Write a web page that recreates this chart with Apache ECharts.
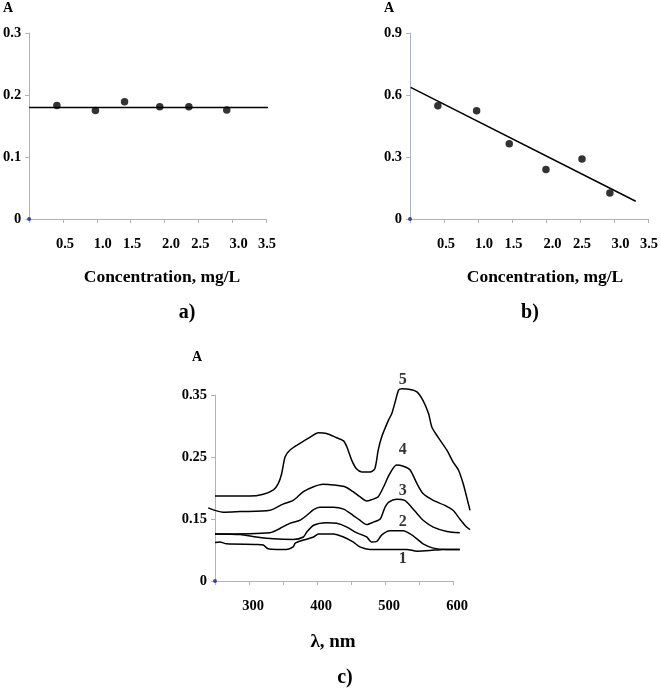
<!DOCTYPE html>
<html><head><meta charset="utf-8">
<script src="https://cdn.jsdelivr.net/npm/echarts@6/dist/echarts.min.js"></script>
<style>html,body{margin:0;padding:0;background:#fff}#c{width:661px;height:691px}</style>
</head><body><div id="c"></div><script>
// ---- data: panel a ----
const aConc = [0.41, 0.98, 1.41, 1.93, 2.36, 2.92];
const aAbs  = [0.183, 0.175, 0.189, 0.181, 0.181, 0.176];
const aFitConc = [0, 3.65];
const aFitAbs  = [0.18, 0.18];
// ---- data: panel b ----
const bConc = [0.41, 0.98, 1.46, 2.00, 2.53, 2.94];
const bAbs  = [0.548, 0.524, 0.364, 0.240, 0.290, 0.126];
const bFitConc = [0.01, 3.32];
const bFitAbs  = [0.637, 0.086];
// ---- axis ticks ----
const concTicks = ['0.5','1.0','1.5','2.0','2.5','3.0','3.5'];
const aTicks = ['0','0.1','0.2','0.3'];
const bTicks = ['0','0.3','0.6','0.9'];
const cTicks = ['0','0.15','0.25','0.35'];
const nmTicks = ['300','400','500','600'];
// ---- data: panel c spectra ----
const c1nm = [250,257,267,311,321,328,341,355,365,368,380,395,402,424,439,453,463,478,507,532,547,566,586,610];
const c1A  = [0.112,0.113,0.110,0.109,0.108,0.102,0.101,0.101,0.105,0.111,0.116,0.121,0.126,0.126,0.121,0.113,0.105,0.101,0.101,0.101,0.098,0.099,0.101,0.101];
const c2nm = [250,287,311,336,365,380,385,395,414,429,444,458,473,480,488,495,507,527,537,547,556,571,591,610];
const c2A  = [0.126,0.125,0.121,0.118,0.117,0.121,0.129,0.140,0.144,0.143,0.137,0.128,0.121,0.113,0.114,0.124,0.131,0.131,0.126,0.118,0.110,0.103,0.101,0.101];
const c3nm = [250,331,346,360,375,385,395,404,424,439,453,463,473,483,493,500,505,517,529,539,547,556,571,591,610];
const c3A  = [0.126,0.128,0.135,0.143,0.148,0.156,0.165,0.169,0.169,0.166,0.156,0.148,0.141,0.145,0.150,0.169,0.177,0.182,0.180,0.169,0.159,0.148,0.137,0.130,0.128];
const c4nm = [240,262,287,331,350,365,380,395,409,424,441,453,463,473,480,490,498,507,517,527,537,547,556,571,588,600,610,620,625];
const c4A  = [0.168,0.161,0.162,0.164,0.174,0.180,0.194,0.202,0.206,0.205,0.202,0.194,0.186,0.179,0.181,0.186,0.202,0.223,0.237,0.235,0.229,0.207,0.191,0.180,0.172,0.164,0.150,0.137,0.133];
const c5nm = [250,301,321,336,343,348,353,360,375,390,402,414,429,439,444,451,458,466,478,485,490,495,505,510,515,520,525,537,547,556,564,569,578,591,600,608,615,620,625];
const c5A  = [0.187,0.187,0.190,0.197,0.207,0.223,0.250,0.261,0.272,0.282,0.289,0.288,0.281,0.276,0.266,0.245,0.231,0.226,0.226,0.231,0.261,0.282,0.309,0.320,0.339,0.358,0.360,0.359,0.355,0.341,0.320,0.298,0.282,0.261,0.242,0.229,0.207,0.186,0.164];
const curveNames = ['1','2','3','4','5'];
const curveLabelNm = [526,526,526,526,526];
const curveLabelA  = [0.085,0.145,0.195,0.262,0.374];

const zip = (xs, ys) => xs.map((x, i) => [x, ys[i]]);
const FONT = '"Liberation Serif","Times New Roman",serif';
const AX = '#a9b4bf';
const LBL = {color: '#000', fontFamily: FONT, fontWeight: 'bold', fontSize: 14.5};
// small horizontal nudges of the concentration tick labels, as set in the original figure
const concNudge = [2, 6, 1.5, 6.5, 2, 6.5, 1];
const concRich = {};
concNudge.forEach((d, i) => { concRich['t' + i] = Object.assign({padding: [0, 0, 0, 2 * d]}, LBL); });

// panel c geometry: visible axis 250..600 nm; an invisible overlay axis with the same scale (200..650) carries the spectra so they may run past the axis ends
const C_LEFT = 215, C_W = 238, C_MIN = 250, C_MAX = 600, OV_MIN = 200, OV_MAX = 650;
const pxPerNm = C_W / (C_MAX - C_MIN);

function xAxisConc(gi) {
  return {
    gridIndex: gi, type: 'value', min: 0, max: 3.5, interval: 0.5,
    axisLine: {lineStyle: {color: AX}}, axisTick: {show: true, length: 4, lineStyle: {color: AX}},
    splitLine: {show: false},
    axisLabel: Object.assign({margin: 18, rich: concRich,
      formatter: v => { const i = Math.round(v / 0.5) - 1; return i >= 0 ? '{t' + i + '|' + concTicks[i] + '}' : ''; }}, LBL)
  };
}
function yAxisVal(gi, max, interval, ticks, min) {
  min = min || 0;
  return {
    gridIndex: gi, type: 'value', min: min, max: max, interval: interval,
    axisLine: {show: true, lineStyle: {color: AX}}, axisTick: {show: true, length: 4, lineStyle: {color: AX}},
    splitLine: {show: false},
    axisLabel: Object.assign({margin: 8, formatter: v => ticks[Math.round((v - min) / interval)]}, LBL)
  };
}
const lineStyle = {color: '#000', width: 1.5};
const blue = '#1a1aa8';

const curves = [[c1nm,c1A],[c2nm,c2A],[c3nm,c3A],[c4nm,c4A],[c5nm,c5A]];

const option = {
  animation: false,
  backgroundColor: '#fff',
  grid: [
    {left: 27, top: 33, width: 239, height: 186},
    {left: 410, top: 33, width: 238, height: 186},
    {left: C_LEFT, top: 395, width: C_W, height: 186},
    {left: C_LEFT - (C_MIN - OV_MIN) * pxPerNm, top: 395, width: (OV_MAX - OV_MIN) * pxPerNm, height: 186}
  ],
  xAxis: [
    xAxisConc(0), xAxisConc(1),
    {gridIndex: 2, type: 'value', min: C_MIN, max: C_MAX, interval: 50,
     axisLine: {lineStyle: {color: AX}}, axisTick: {show: true, length: 4, lineStyle: {color: AX}},
     splitLine: {show: false},
     axisLabel: Object.assign({margin: 18, padding: [0, 0, 0, 8],
       formatter: v => { const i = nmTicks.indexOf(String(Math.round(v))); return i >= 0 ? nmTicks[i] : ''; }}, LBL)},
    {gridIndex: 3, type: 'value', min: OV_MIN, max: OV_MAX, show: false, splitLine: {show: false}}
  ],
  yAxis: [
    yAxisVal(0, 0.3, 0.1, aTicks),
    yAxisVal(1, 0.9, 0.3, bTicks),
    yAxisVal(2, 0.35, 0.1, cTicks, 0.05),
    {gridIndex: 3, type: 'value', min: 0.05, max: 0.35, show: false, splitLine: {show: false}}
  ],
  graphic: [
    {type: 'text', left: 3, top: 1, style: {text: 'A', font: 'bold 14px ' + FONT, fill: '#000'}},
    {type: 'text', left: 384, top: 1, style: {text: 'A', font: 'bold 14px ' + FONT, fill: '#000'}},
    {type: 'text', left: 192, top: 350, style: {text: 'A', font: 'bold 14px ' + FONT, fill: '#000'}},
    {type: 'text', x: 162, y: 277, style: {text: 'Concentration, mg/L', font: 'bold 17.5px ' + FONT, fill: '#000', align: 'center', verticalAlign: 'middle'}},
    {type: 'text', x: 545, y: 277, style: {text: 'Concentration, mg/L', font: 'bold 17.5px ' + FONT, fill: '#000', align: 'center', verticalAlign: 'middle'}},
    {type: 'text', x: 187, y: 313, style: {text: 'a)', font: 'bold 20px ' + FONT, fill: '#000', align: 'center', verticalAlign: 'middle'}},
    {type: 'text', x: 530, y: 313, style: {text: 'b)', font: 'bold 20px ' + FONT, fill: '#000', align: 'center', verticalAlign: 'middle'}},
    {type: 'text', x: 333, y: 642, style: {text: 'λ, nm', font: 'bold 19px ' + FONT, fill: '#000', align: 'center', verticalAlign: 'middle'}},
    {type: 'text', x: 345, y: 678, style: {text: 'c)', font: 'bold 20px ' + FONT, fill: '#000', align: 'center', verticalAlign: 'middle'}}
  ],
  series: [
    {type: 'line', xAxisIndex: 0, yAxisIndex: 0, data: zip(aFitConc, aFitAbs), showSymbol: false, lineStyle, clip: false, z: 2},
    {type: 'scatter', xAxisIndex: 0, yAxisIndex: 0, data: zip(aConc, aAbs), symbolSize: 7.5, itemStyle: {color: '#000'}, z: 3},
    {type: 'scatter', xAxisIndex: 0, yAxisIndex: 0, data: [[0, 0]], symbolSize: 4, itemStyle: {color: blue}, clip: false, z: 4},
    {type: 'line', xAxisIndex: 1, yAxisIndex: 1, data: zip(bFitConc, bFitAbs), showSymbol: false, lineStyle, clip: false, z: 2},
    {type: 'scatter', xAxisIndex: 1, yAxisIndex: 1, data: zip(bConc, bAbs), symbolSize: 7.5, itemStyle: {color: '#000'}, z: 3},
    {type: 'scatter', xAxisIndex: 1, yAxisIndex: 1, data: [[0, 0]], symbolSize: 4, itemStyle: {color: blue}, clip: false, z: 4},
    ...curves.map(c => ({type: 'line', xAxisIndex: 3, yAxisIndex: 3, data: zip(c[0], c[1]), showSymbol: false, smooth: 0.25, lineStyle, clip: false, z: 2})),
    {type: 'scatter', xAxisIndex: 2, yAxisIndex: 2, data: [[250, 0.05]], symbolSize: 4, itemStyle: {color: blue}, clip: false, z: 4},
    {type: 'scatter', xAxisIndex: 3, yAxisIndex: 3, symbolSize: 0, clip: false,
     data: curveNames.map((n, i) => ({name: n, value: [curveLabelNm[i], curveLabelA[i]]})),
     label: {show: true, position: 'inside', formatter: p => p.name, color: '#000', fontFamily: FONT, fontWeight: 'bold', fontSize: 16}}
  ]
};
const chart = echarts.init(document.getElementById('c'), null, {renderer: 'canvas'});
chart.setOption(option);
</script></body></html>
